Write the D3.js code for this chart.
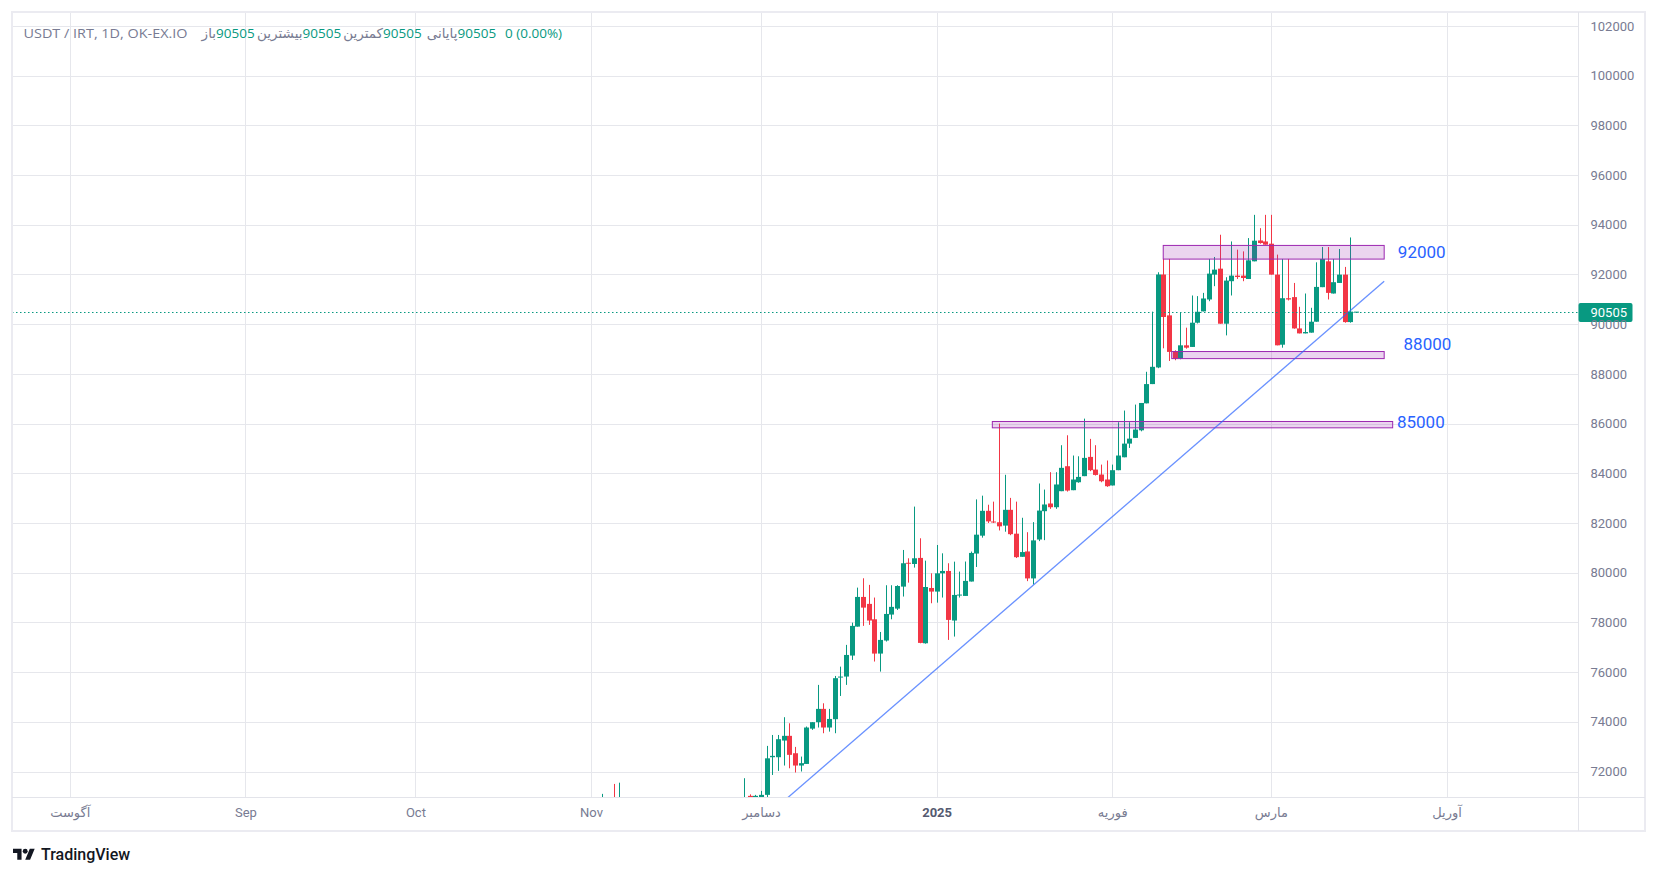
<!DOCTYPE html>
<html>
<head>
<meta charset="utf-8">
<title>USDT / IRT, 1D</title>
<script src="https://d3js.org/d3.v7.min.js"></script>
<style>
  html, body { margin: 0; padding: 0; background: #fff; }
  svg { display: block; font-family: Roboto, "DejaVu Sans", sans-serif; }
</style>
</head>
<body>
<svg id="chart" width="1658" height="876"></svg>
<script>
// daily candles that reach the visible price range
const dates = [
  "2024-11-03","2024-11-05","2024-11-06","2024-11-28","2024-11-29","2024-11-30",
  "2024-12-01","2024-12-02","2024-12-03","2024-12-04","2024-12-05","2024-12-06","2024-12-07","2024-12-08",
  "2024-12-09","2024-12-10","2024-12-11","2024-12-12","2024-12-13","2024-12-14","2024-12-15","2024-12-16",
  "2024-12-17","2024-12-18","2024-12-19","2024-12-20","2024-12-21","2024-12-22","2024-12-23","2024-12-24",
  "2024-12-25","2024-12-26","2024-12-27","2024-12-28","2024-12-29","2024-12-30","2024-12-31",
  "2025-01-01","2025-01-02","2025-01-03","2025-01-04","2025-01-05","2025-01-06","2025-01-07","2025-01-08",
  "2025-01-09","2025-01-10","2025-01-11","2025-01-12","2025-01-13","2025-01-14","2025-01-15","2025-01-16",
  "2025-01-17","2025-01-18","2025-01-19","2025-01-20","2025-01-21","2025-01-22","2025-01-23","2025-01-24",
  "2025-01-25","2025-01-26","2025-01-27","2025-01-28","2025-01-29","2025-01-30","2025-01-31",
  "2025-02-01","2025-02-02","2025-02-03","2025-02-04","2025-02-05","2025-02-06","2025-02-07","2025-02-08",
  "2025-02-09","2025-02-10","2025-02-11","2025-02-12","2025-02-13","2025-02-14","2025-02-15","2025-02-16",
  "2025-02-17","2025-02-18","2025-02-19","2025-02-20","2025-02-21","2025-02-22","2025-02-23","2025-02-24",
  "2025-02-25","2025-02-26","2025-02-27","2025-02-28",
  "2025-03-01","2025-03-02","2025-03-03","2025-03-04","2025-03-05","2025-03-06","2025-03-07","2025-03-08",
  "2025-03-09","2025-03-10","2025-03-11","2025-03-12","2025-03-13","2025-03-14","2025-03-15","2025-03-16"
];
const opens = [
  70600,70900,70700,70700,71020,70800,
  70950,71060,72575,72575,73245,73435,72735,72240,72305,73725,73985,74520,73770,74105,75780,75820,
  76665,77830,79025,78745,78125,76745,77270,78315,78555,79440,80400,80350,80595,77160,79385,
  79240,79975,80070,78075,79105,79065,79645,80770,81490,82490,82060,82030,81895,82530,81570,80640,
  80855,79770,81335,82475,82785,82635,83280,84285,83320,83640,83885,84660,84150,83950,83750,
  83510,84125,84645,85195,85425,85730,86815,87590,88260,92000,90355,88885,88615,89150,89085,90060,
  90515,90995,91995,92235,90020,91730,91955,91955,91820,92530,93370,93330,
  93240,91995,89175,91045,91090,89830,89630,89660,90100,91490,92530,91235,91660,91995,90085,90505
];
const highs = [
  71100,71500,71550,71730,71080,71060,
  71220,73030,73470,73470,74185,73940,72990,72600,73810,73985,75485,74745,74520,75845,76220,77095,
  77990,79400,79775,79510,79000,77615,79495,79495,79495,80915,80580,82660,81385,80485,79975,
  81115,80780,80380,80445,80045,80450,80850,82950,83100,82735,82860,86000,83940,83010,82860,82210,
  81630,82035,83590,83345,84045,84045,85130,85530,84715,84685,86200,85385,85130,84350,84515,
  84350,86055,86525,86055,86765,86830,88085,90505,92090,92625,92625,88950,90460,89860,91155,91130,
  91260,92625,92705,93600,91890,93330,93000,92930,93465,94400,93865,94400,
  94400,92800,92625,92625,91660,90700,91235,90660,92490,93105,93105,92625,93025,92305,93490,90505
];
const lows = [
  70300,70500,70400,70500,70600,70600,
  70800,70900,71860,72025,72240,72130,71960,72000,72305,73675,73770,73540,73605,73540,75040,75485,
  76490,77830,77860,77900,76425,76020,77230,78125,78500,79040,79600,80205,77160,77145,78770,
  78795,79000,77295,77430,79000,79065,79645,80230,81410,82000,82000,81700,81650,81510,80590,80640,
  79660,79530,81270,81310,82570,82570,83280,83265,83320,83620,83885,84085,83910,83640,83455,
  83510,84125,84645,85020,85425,85690,86815,87590,88230,89030,88520,88550,88590,89015,89085,90030,
  90515,90925,91530,90020,89550,91155,91820,91730,91820,92530,93240,93200,
  91995,89150,89055,90955,89820,89630,89630,89660,90100,91490,90995,91235,91660,90060,90060,90505
];
const closes = [
  70800,70700,70900,70900,70800,71020,
  71060,72530,72630,73300,73435,72670,72240,72335,73770,73985,74520,73770,74115,75755,75820,76690,
  77860,79025,78595,78075,76745,77295,78340,78625,79465,80380,80380,80580,77175,79425,79240,
  79975,80070,78100,79105,79120,79670,80795,81530,82490,82065,82030,81865,82530,81550,80625,80830,
  79770,81300,82500,82745,82635,83550,84220,83305,83750,83855,84620,84125,83935,83680,83480,
  84125,84715,85195,85395,85760,86830,87590,88285,92000,90290,88885,88615,89150,89055,90060,90500,
  91035,92035,92195,90020,91755,91955,91900,91860,92570,93360,93265,93200,
  91995,89150,91045,90995,89830,89630,89685,90100,91500,92625,91260,91690,91995,90085,90505,90505
];
const lastPrice = 90505;

// axis ticks
const priceTicks = [72000,74000,76000,78000,80000,82000,84000,86000,88000,90000,92000,94000,96000,98000,100000,102000];
const monthDates = ["2024-08-01","2024-09-01","2024-10-01","2024-11-01","2024-12-01","2025-01-01","2025-02-01","2025-03-01","2025-04-01"];
const monthLabels = ["آگوست","Sep","Oct","Nov","دسامبر","2025","فوریه","مارس","آوریل"];

// drawings: zones, trend line, price notes
const zoneStart = ["2025-02-10T00:00Z","2025-02-11T12:00Z","2025-01-10T20:00Z"];
const zoneEnd = ["2025-03-21T00:00Z","2025-03-21T00:00Z","2025-03-22T12:00Z"];
const zoneLow = [92620, 88615, 85830];
const zoneHigh = [93170, 88900, 86085];
const trendDates = ["2024-11-25T00:00Z","2025-03-21T00:00Z"];
const trendPrices = [68830, 91726];
const noteTexts = ["92000","88000","85000"];
const noteDates = ["2025-03-23T10:00Z","2025-03-24T10:00Z","2025-03-23T06:00Z"];
const notePrices = [92905, 89223, 86068];

const header = [
  ["USDT / IRT, 1D, OK-EX.IO", "label"],
  ["باز", "label"], ["90505", "value"],
  ["بیشترین", "label"], ["90505", "value"],
  ["کمترین", "label"], ["90505", "value"],
  ["پایانی", "label"], ["90505", "value"],
  ["0 (0.00%)", "value"]
];

// layout
const W = 1658, H = 876;
const plotL = 12, plotR = 1578, plotT = 12, plotB = 797;
const frameR = 1645, frameB = 831;
const up = "#089981", down = "#f23645";
const textGrey = "#787b92";
const gridColor = "#e6e7ec";

const x = d3.scaleUtc()
  .domain([new Date("2024-08-01"), new Date("2025-04-01")])
  .range([69.8, 1446.5]);
const y = d3.scaleLinear()
  .domain([70986, 102551])
  .range([796.7, 12.3]);

const svg = d3.select("#chart");
svg.append("rect").attr("width", W).attr("height", H).attr("fill", "#fff");

svg.append("clipPath").attr("id", "plotClip")
  .append("rect")
    .attr("x", plotL).attr("y", plotT)
    .attr("width", plotR - plotL).attr("height", plotB - plotT);

// grid
const grid = svg.append("g");
grid.selectAll(".hgrid")
    .data(priceTicks)
  .join("line")
    .attr("class", "hgrid")
    .attr("x1", plotL).attr("x2", plotR)
    .attr("y1", d => Math.round(y(d)) + 0.5)
    .attr("y2", d => Math.round(y(d)) + 0.5)
    .attr("stroke", gridColor);
grid.selectAll(".vgrid")
    .data(monthDates)
  .join("line")
    .attr("class", "vgrid")
    .attr("x1", d => Math.round(x(new Date(d))) + 0.5)
    .attr("x2", d => Math.round(x(new Date(d))) + 0.5)
    .attr("y1", plotT).attr("y2", plotB)
    .attr("stroke", gridColor);

// candles
const idx = d3.range(dates.length);
const cx = i => Math.round(x(new Date(dates[i]))) + 0.5;
const col = i => closes[i] >= opens[i] ? up : down;
const plot = svg.append("g").attr("clip-path", "url(#plotClip)");
plot.selectAll(".wick")
    .data(idx)
  .join("line")
    .attr("class", "wick")
    .attr("x1", cx).attr("x2", cx)
    .attr("y1", i => y(highs[i]))
    .attr("y2", i => y(lows[i]))
    .attr("stroke", col)
    .attr("stroke-width", 1);
plot.selectAll(".body")
    .data(idx)
  .join("rect")
    .attr("class", "body")
    .attr("x", i => cx(i) - 2.5)
    .attr("width", 5)
    .attr("y", i => Math.min(y(opens[i]), y(closes[i])))
    .attr("height", i => Math.max(1, Math.abs(y(opens[i]) - y(closes[i]))))
    .attr("fill", col);

// zones
plot.selectAll(".zone")
    .data(zoneStart.map((d, i) => i))
  .join("rect")
    .attr("class", "zone")
    .attr("x", i => x(new Date(zoneStart[i])))
    .attr("width", i => x(new Date(zoneEnd[i])) - x(new Date(zoneStart[i])))
    .attr("y", i => y(zoneHigh[i]))
    .attr("height", i => y(zoneLow[i]) - y(zoneHigh[i]))
    .attr("fill", "rgba(156,39,176,0.2)")
    .attr("stroke", "#9c27b0")
    .attr("stroke-width", 1);

// trend line
plot.append("line")
  .attr("x1", x(new Date(trendDates[0]))).attr("y1", y(trendPrices[0]))
  .attr("x2", x(new Date(trendDates[1]))).attr("y2", y(trendPrices[1]))
  .attr("stroke", "#2962ff")
  .attr("stroke-opacity", 0.7)
  .attr("stroke-width", 1.3);

// last price line
const lastY = Math.round(y(lastPrice)) + 0.5;
svg.append("line")
  .attr("x1", plotL).attr("x2", plotR)
  .attr("y1", lastY).attr("y2", lastY)
  .attr("stroke", up)
  .attr("stroke-dasharray", "1.5,2.5");

// price notes
plot.selectAll(".note")
    .data(noteTexts)
  .join("text")
    .attr("class", "note")
    .attr("x", (d, i) => x(new Date(noteDates[i])))
    .attr("y", (d, i) => y(notePrices[i]))
    .attr("dominant-baseline", "central")
    .attr("fill", "#2962ff")
    .attr("font-size", 17)
    .text(d => d);

// frame and separators
svg.append("rect")
  .attr("x", plotL).attr("y", plotT)
  .attr("width", frameR - plotL).attr("height", frameB - plotT)
  .attr("fill", "none")
  .attr("stroke", "#ebebf1")
  .attr("stroke-width", 2);
svg.append("line")
  .attr("x1", plotR + 0.5).attr("x2", plotR + 0.5)
  .attr("y1", plotT).attr("y2", frameB)
  .attr("stroke", "#e3e4ea");
svg.append("line")
  .attr("x1", plotL).attr("x2", frameR)
  .attr("y1", plotB + 0.5).attr("y2", plotB + 0.5)
  .attr("stroke", "#e3e4ea");

// last price tag on the scale
svg.append("rect")
  .attr("x", plotR + 0.5).attr("y", lastY - 9.5)
  .attr("width", 54).attr("height", 19)
  .attr("rx", 2)
  .attr("fill", up);

// price axis
const yAxis = d3.axisRight(y)
  .tickValues(priceTicks)
  .tickFormat(d3.format("d"))
  .tickSize(0)
  .tickPadding(12.5);
const gy = svg.append("g")
  .attr("transform", `translate(${plotR},0)`)
  .call(yAxis);
gy.select(".domain").remove();
gy.selectAll("text")
  .attr("fill", textGrey)
  .attr("font-size", 13)
  .attr("font-family", "Roboto, sans-serif");

svg.append("text")
  .attr("x", plotR + 12.5)
  .attr("y", lastY)
  .attr("dy", "0.35em")
  .attr("fill", "#fff")
  .attr("font-size", 13)
  .text(d3.format("d")(lastPrice));

// time axis
const xAxis = d3.axisBottom(x)
  .tickValues(monthDates.map(d => new Date(d)))
  .tickFormat((d, i) => monthLabels[i])
  .tickSize(0)
  .tickPadding(11);
const gx = svg.append("g")
  .attr("transform", `translate(0,${plotB})`)
  .call(xAxis);
gx.select(".domain").remove();
gx.selectAll("text")
  .attr("fill", textGrey)
  .attr("font-size", 13)
  .attr("font-family", "Roboto, 'DejaVu Sans', sans-serif")
  .filter((d, i) => monthLabels[i] === "2025")
    .attr("fill", "#555a70")
    .attr("font-weight", "bold");

// legend line at the top
const headX = [23.5, 216, 216, 302.5, 302.5, 383, 383, 457.5, 457.5, 505];
const head = svg.append("g")
  .attr("font-size", 13.5)
  .attr("font-family", "'Open Sans', 'DejaVu Sans', sans-serif");
head.selectAll("text")
    .data(header)
  .join("text")
    .attr("x", (d, i) => headX[i])
    .attr("y", 33)
    .attr("dominant-baseline", "central")
    .attr("text-anchor", (d, i) => (i > 0 && d[1] === "label") ? "end" : "start")
    .attr("fill", d => d[1] === "value" ? up : textGrey)
    .text(d => d[0]);
// the symbol line is a little wider in the original font
head.select("text")
  .attr("textLength", 164)
  .attr("lengthAdjust", "spacingAndGlyphs");

// TradingView mark
const logo = svg.append("g").attr("transform", "translate(13,846.3) scale(0.611)");
logo.append("path")
  .attr("d", "M14 22H7V11H0V4h14v18zM28 22h-8l7.5-18h8L28 22z")
  .attr("fill", "#131722");
logo.append("circle").attr("cx", 20).attr("cy", 8).attr("r", 4).attr("fill", "#131722");
svg.append("text")
  .attr("x", 41)
  .attr("y", 854)
  .attr("dominant-baseline", "central")
  .attr("font-size", 16)
  .attr("font-weight", 500)
  .attr("fill", "#131722")
  .text("TradingView");
</script>
</body>
</html>
